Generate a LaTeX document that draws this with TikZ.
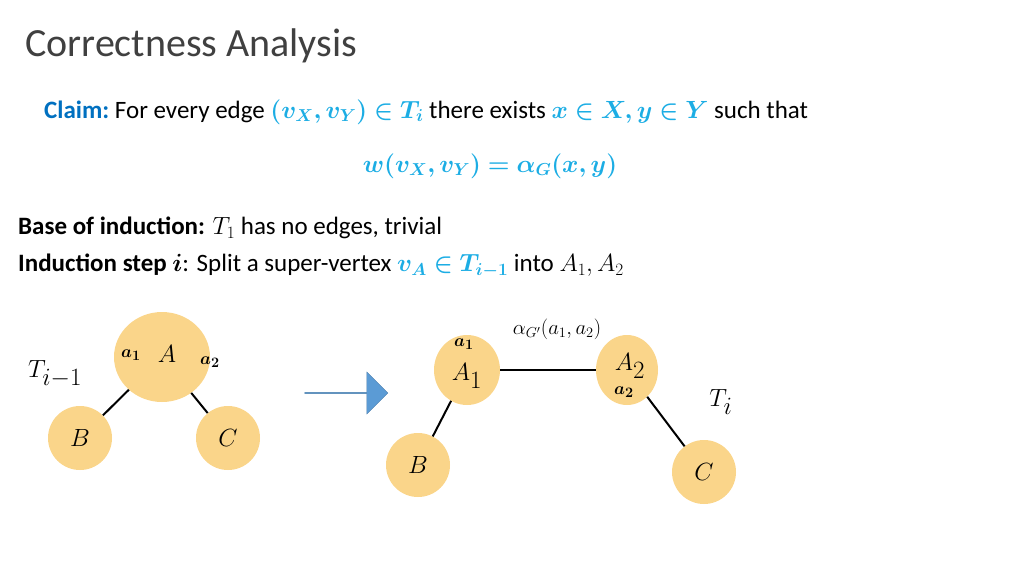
\documentclass[tikz,border=0pt]{standalone}
\usepackage{amsmath,bm}
\usepackage{fontspec}
\setmainfont{Carlito}
\usetikzlibrary{shapes.geometric,shapes.arrows}
\definecolor{nodefill}{HTML}{FAD58A}
\definecolor{mathblue}{HTML}{1CADE4}
\definecolor{claimblue}{HTML}{0070C0}
\definecolor{arrowblue}{HTML}{5B9BD5}
\tikzset{
 vert/.style={ellipse,fill=nodefill,inner sep=0pt},
 edge/.style={line width=2pt},
 txt/.style={anchor=west,inner sep=0pt,font=\fontsize{25}{30}\selectfont},
 big/.style={font=\fontsize{33}{38}\selectfont},
 small/.style={font=\fontsize{19}{22}\selectfont},
}
\begin{document}
\begin{tikzpicture}[x=1pt,y=-1pt]
\useasboundingbox (0,0) rectangle (1024,576);
\node[anchor=west,inner sep=0pt,font=\fontsize{40}{46}\selectfont,color=black!75] (title) at (25,46) {Correctness Analysis};
\node[txt] (claim) at (44,112) {\textcolor{claimblue}{\textbf{Claim:}}\ For every edge $\color{mathblue}\bm{(v_X,v_Y)\in T_i}$ there exists $\color{mathblue}\bm{x\in X, y\in Y}$ such that};
\node[inner sep=0pt,font=\fontsize{25}{30}\selectfont] (eq) at (490,166) {$\color{mathblue}\bm{w(v_X,v_Y)=\alpha_G(x,y)}$};
\node[txt] (base) at (18,228) {\textbf{Base of induction:} $T_1$ has no edges, trivial};
\node[txt] (step) at (18,266) {\textbf{Induction step $\bm{i}$}: Split a super-vertex $\color{mathblue}\bm{v_A\in T_{i-1}}$ into $A_1,A_2$};
% left tree
\node[vert,minimum width=96pt,minimum height=90pt] (A) at (162,357) {};
\node[big] (Al) at (167,354) {$A$};
\node[small] (a1) at (131,355) {$\bm{a_1}$};
\node[small] (a2) at (210,362) {$\bm{a_2}$};
\node[vert,minimum width=64pt,minimum height=64pt,big] (B) at (80,438) {$B$};
\node[vert,minimum width=64pt,minimum height=64pt,big] (C) at (228,438) {$C$};
\node[big] (Tim) at (55,374) {$T_{i-1}$};
\draw[edge] (A) -- (B);
\draw[edge] (A) -- (C);
% arrow
\node[single arrow,fill=arrowblue,draw=arrowblue!80!black,minimum height=83pt,minimum width=42pt,single arrow head extend=7pt,inner sep=0pt] (arr) at (346,393) {};
% right tree
\node[vert,minimum width=66pt,minimum height=70pt] (A1) at (467,370) {};
\node[big] (A1l) at (467,376) {$A_1$};
\node[small] (b1) at (464,344) {$\bm{a_1}$};
\node[vert,minimum width=62pt,minimum height=70pt] (A2) at (627,370) {};
\node[big] (A2l) at (630,366) {$A_2$};
\node[small] (b2) at (624,392) {$\bm{a_2}$};
\node[vert,minimum width=64pt,minimum height=64pt,big] (B2) at (418,465) {$B$};
\node[vert,minimum width=64pt,minimum height=64pt,big] (C2) at (704,472) {$C$};
\node[font=\fontsize{21}{25}\selectfont] (alab) at (557,329) {$\alpha_{G'}(a_1,a_2)$};
\node[big] (Ti) at (721,402) {$T_i$};
\draw[edge] (A1) -- (A2);
\draw[edge] (A1) -- (B2);
\draw[edge] (A2) -- (C2);
\end{tikzpicture}
\end{document}
